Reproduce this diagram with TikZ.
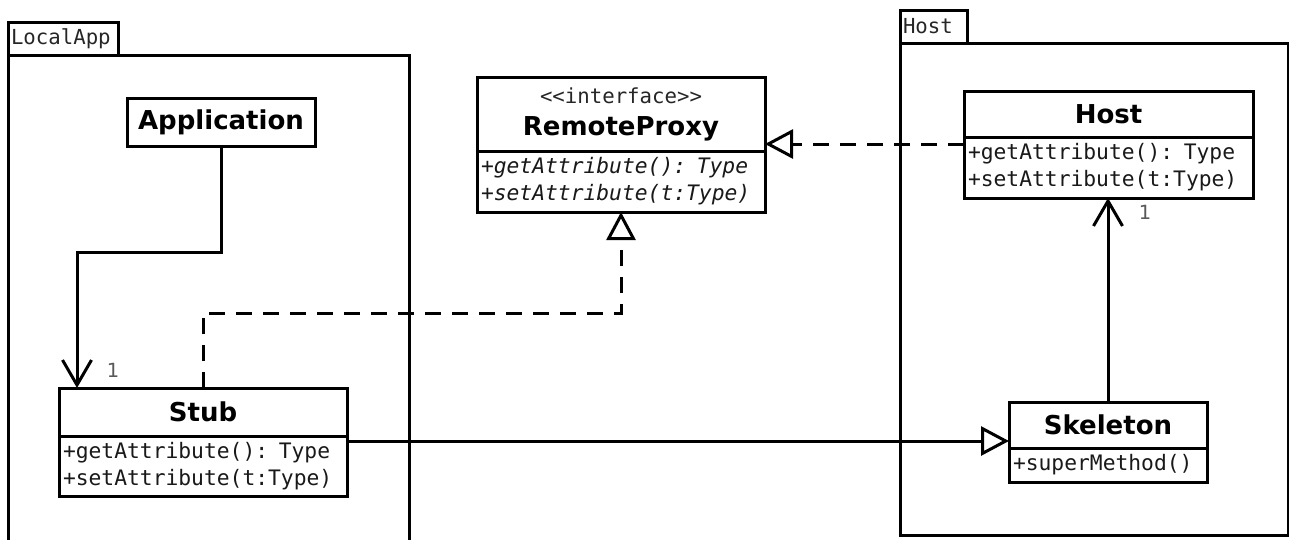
\documentclass[tikz,border=0pt]{standalone}
\usepackage{fontspec}
\newfontfamily\umlmono{DejaVu Sans Mono}
\newfontfamily\umlsans{DejaVu Sans}
\usetikzlibrary{arrows.meta}

\begin{document}
\begin{tikzpicture}[x=1pt,y=-1pt,
  box/.style={draw,line width=3pt,inner sep=0pt,outer sep=0pt,fill=white},
  head/.style={box,font=\umlsans\bfseries\fontsize{26}{31}\selectfont,align=center},
  body/.style={box,font=\umlmono\fontsize{21.3}{27}\selectfont,align=left,inner xsep=4pt,text=black!90,anchor=north},
  ibody/.style={body,font=\umlmono\itshape\fontsize{21.3}{27}\selectfont},
  tab/.style={draw,line width=3pt,inner ysep=0pt,inner xsep=3pt,outer sep=0pt,anchor=north west,align=left,
    font=\umlmono\fontsize{20.7}{25}\selectfont,text=black!85},
  frame/.style={line width=3pt},
  mult/.style={font=\umlsans\fontsize{19.5}{23}\selectfont,text=black!65},
  assoc/.style={line width=3pt,-{Straight Barb[length=25pt,width=29pt]}},
  realize/.style={line width=3pt,dash pattern=on 16pt off 11pt,-{Triangle[open,length=28pt,width=29pt]}},
  generalize/.style={line width=3pt,-{Triangle[open,length=28pt,width=29pt]}}
]
\useasboundingbox (0,0) rectangle (1289,539);

% packages
\node[tab,text width=104pt,minimum height=33pt] (latab) at (8,22) {LocalApp};
\draw[frame] (latab.south west) -- ++(0,490);
\draw[frame] (latab.south west) -- ++(401,0) -- ++(0,490);

\node[tab,text width=61pt,minimum height=33pt] (hosttab) at (900,10) {Host};
\node[draw,line width=3pt,anchor=north west,minimum width=388pt,minimum height=492pt,inner sep=0pt,outer sep=0pt]
  (hostpkg) at (hosttab.south west) {};

% classes
\node[head,minimum width=188pt,minimum height=48pt] (app) at (221,122) {Application};

\node[head,minimum width=288pt,minimum height=74pt] (rph) at (621,114)
  {{\umlmono\mdseries\fontsize{20.7}{25}\selectfont\color{black!85}<<interface>>}\\[1pt]RemoteProxy};
\node[ibody,text width=280pt,minimum height=61pt] (rpb) at (rph.south)
  {+getAttribute(): Type\\+setAttribute(t:Type)};

\node[head,minimum width=289pt,minimum height=46pt] (hosth) at (1108.5,114) {Host};
\node[body,text width=281pt,minimum height=61pt] (hostb) at (hosth.south)
  {+getAttribute(): Type\\+setAttribute(t:Type)};

\node[head,minimum width=288pt,minimum height=48pt] (stubh) at (203,412) {Stub};
\node[body,text width=280pt,minimum height=60pt] (stubb) at (stubh.south)
  {+getAttribute(): Type\\+setAttribute(t:Type)};

\node[head,minimum width=198pt,minimum height=46pt] (skh) at (1108,425) {Skeleton};
\node[body,text width=190pt,minimum height=34pt] (skb) at (skh.south) {+superMethod()};

% relations
\draw[assoc] (app.south) -- ++(0,106) -| ([xshift=-126pt]stubh.north);
\node[mult] (m1) at (113,370) {1};

\draw[realize] (stubh.north) -- ++(0,-75) -| (rpb.south);

\draw[realize] ([yshift=23.5pt]hostb.west) coordinate (hr) -- (hr -| rph.east);

\draw[assoc] (skh.north) -- (skh.north |- hostb.south);
\node[mult] (m2) at (1145,212) {1};

\draw[generalize] ([yshift=25pt]stubb.east) coordinate (st) -- (st -| skh.west);
\end{tikzpicture}
\end{document}
